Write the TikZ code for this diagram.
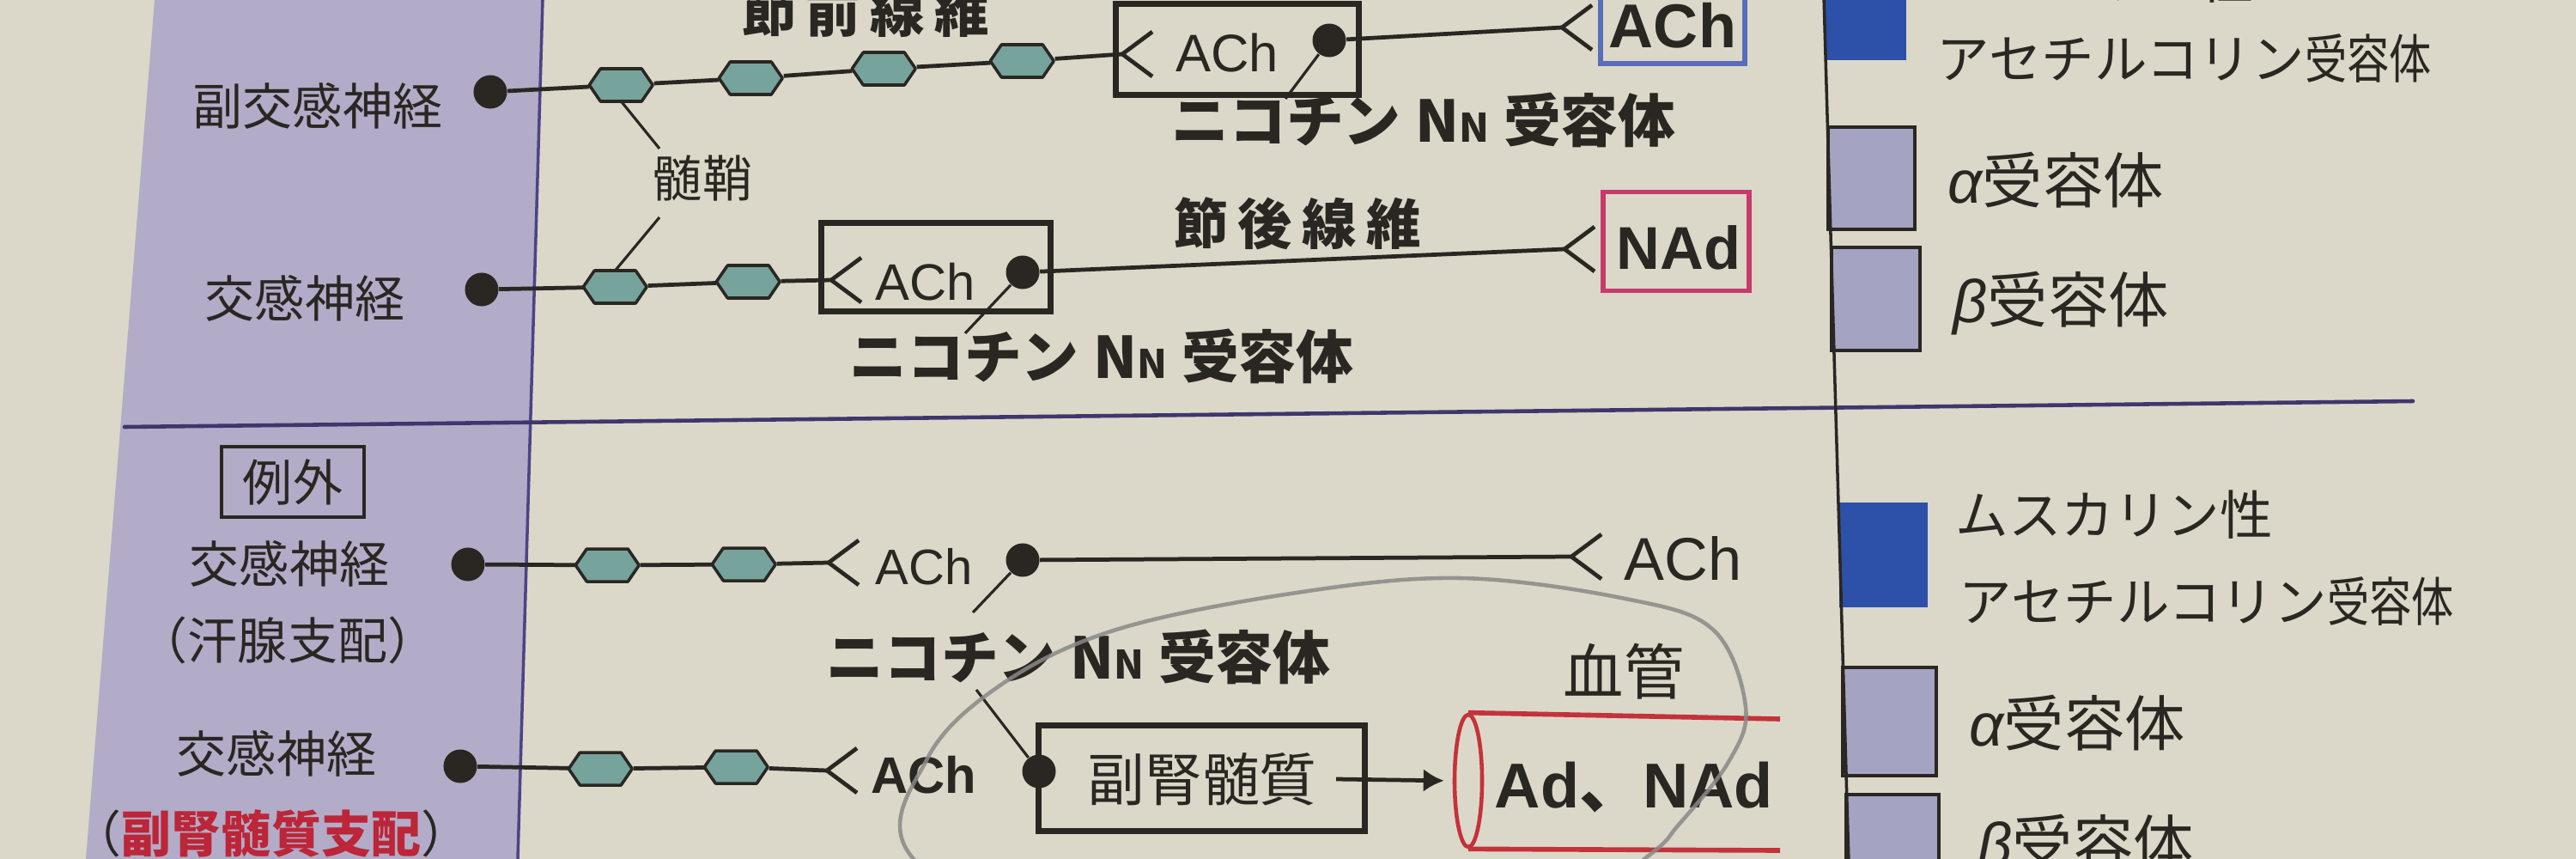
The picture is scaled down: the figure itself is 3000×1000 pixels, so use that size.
\documentclass[tikz,border=0pt]{standalone}
\usepackage{fontspec}
\setmainfont{Liberation Sans}
\newfontfamily\jp{Noto Sans CJK JP}
\usetikzlibrary{shapes.geometric,arrows.meta}
\definecolor{paper}{HTML}{DBD8C9}
\definecolor{band}{HTML}{B2ACC8}
\definecolor{bandline}{HTML}{4E4386}
\definecolor{divider}{HTML}{40366E}
\definecolor{ink}{HTML}{2A2723}
\definecolor{hexfill}{HTML}{76A39B}
\definecolor{bluesq}{HTML}{2D50A8}
\definecolor{lavsq}{HTML}{A5A3C2}
\definecolor{bluebox}{HTML}{5A6CBA}
\definecolor{pinkbox}{HTML}{C63A6C}
\definecolor{vessel}{HTML}{C4323A}
\definecolor{redtext}{HTML}{BC2638}
\definecolor{pencil}{HTML}{8A8987}
\newcommand\synend[1]{\draw[fibre] (#1) ++(35,-26) -- (#1) -- ++(35,26);}
\newcommand\hexat[2]{%
  \node[hexbase] (#1) at (#2) {};
  \filldraw[hexline] (#1.west) -- ++(13,-19) -- ++(48,0) -- ++(13,19) -- ++(-13,19) -- ++(-48,0) -- cycle;}
\begin{document}
\begin{tikzpicture}[x=0.01cm,y=-0.01cm,
  fibre/.style={draw=ink,line width=1.35pt,line join=miter},
  hexbase/.style={rectangle,minimum width=0.74cm,minimum height=0.38cm,inner sep=0pt},
  hexline/.style={draw=ink,fill=hexfill,line width=1pt,line join=round},
  knob/.style={circle,fill=ink,minimum size=0.39cm,inner sep=0pt},
  frame/.style={draw=ink,line width=2pt,inner sep=0pt},
  leader/.style={draw=ink,line width=0.9pt},
  jlab/.style={font=\jp\fontsize{16.5}{18}\selectfont,text=ink,inner sep=0pt},
  jbold/.style={font=\jp\bfseries\fontsize{19}{21}\selectfont,text=ink,inner sep=0pt},
  legend/.style={font=\jp\fontsize{20}{22}\selectfont,text=ink,inner sep=0pt,anchor=west},
  legsmall/.style={font=\jp\fontsize{17.5}{19}\selectfont,text=ink,inner sep=0pt,anchor=west},
  txt/.style={text=ink,inner sep=0pt},
  sq/.style={draw=ink,line width=1pt,fill=lavsq},
]
\useasboundingbox (0,0) rectangle (3000,1000);
\clip (0,0) rectangle (3000,1000);
\fill[paper] (0,0) rectangle (3000,1000);
% left band
\fill[band] (180,0) -- (632,0) -- (603,1000) -- (100,1000) -- cycle;
\draw[bandline,line width=1pt] (632,0) -- (603,1000);
% divider
\draw[divider,line width=1.3pt,line cap=round] (145,497) -- (2810,467);
% legend column
\fill[bluesq] (2125,-10) rectangle (2220,70);
\draw[sq] (2129,148) rectangle (2230,267);
\draw[sq] (2133,288) rectangle (2236,408);
\fill[bluesq] (2142,585) rectangle (2245,707);
\draw[sq] (2146,777) rectangle (2255,903);
\draw[sq] (2150,925) rectangle (2258,1020);
\draw[ink,line width=1pt] (2124,-5) -- (2153,1005);
\node[legsmall] (m1a) at (2255,-25) {ムスカリン性};
\node[legsmall] (m1b) at (2255,68) {アセチルコリン\scalebox{0.8}[1]{受容体}};
\node[legend] (al1) at (2268,210) {{\rmfamily\itshape α}受容体};
\node[legend] (be1) at (2274,353) {{\rmfamily\itshape β}受容体};
\node[legsmall] (m2a) at (2277,599) {ムスカリン性};
\node[legsmall] (m2b) at (2281,700) {アセチルコリン\scalebox{0.8}[1]{受容体}};
\node[legend] (al2) at (2293,842) {{\rmfamily\itshape α}受容体};
\node[legend] (be2) at (2303,985) {{\rmfamily\itshape β}受容体};

% left labels
\node[jlab] (lpara) at (370,123) {副交感神経};
\node[jlab] (lsym) at (355,347) {交感神経};
\node[jlab,draw=ink,line width=1pt,minimum width=1.66cm,minimum height=0.82cm] (exc) at (341,561) {例外};
\node[jlab] (lsym2) at (337,656) {交感神経};
\node[jlab] (lsweat) at (335,745) {（汗腺支配）};
\node[jlab] (lsym3) at (322,877) {交感神経};
\node[jlab] (ladr) at (316,970) {（{\bfseries\color{redtext}副腎髄質支配}）};

% ---------- line 1 : parasympathetic
\node[jbold,font=\jp\bfseries\fontsize{18}{20}\selectfont] (pre) at (1008,13) {節\hspace{0.18em}前\hspace{0.18em}線\hspace{0.18em}維};
\node[knob] (d1) at (571,107) {};
\hexat{h1}{724,99}
\hexat{h2}{875,91}
\hexat{h3}{1030,80}
\hexat{h4}{1191,71}
\coordinate (t1) at (1307,63);
\node[frame,minimum width=2.82cm,minimum height=1.05cm] (b1) at (1441,57.5) {};
\draw[fibre] (d1) -- (h1) -- (h2) -- (h3) -- (h4) -- (t1);
\synend{t1}
\node[txt,font=\fontsize{17.5}{19}\selectfont] (a1) at (1429,62) {ACh};
\node[knob] (d1b) at (1548,47) {};
\coordinate (t1b) at (1819,32);
\draw[fibre] (d1b) -- (t1b);
\synend{t1b}
\node[draw=bluebox,line width=1.5pt,minimum width=1.68cm,minimum height=0.89cm,inner sep=0pt,text=ink,font=\bfseries\fontsize{20.5}{22}\selectfont] (bb1) at (1948,29.5) {ACh};
\node[jbold] (n1) at (1658,140) {ニコチン\hspace{0.25em}N{\fontsize{13}{13}\selectfont N}\hspace{0.25em}受容体};
\coordinate (l1) at (1497,115);
\draw[leader] (d1b) -- (l1);
% myelin label
\node[jlab] (my) at (818,207) {髄鞘};
\coordinate (my1) at (768,173);
\coordinate (my2) at (768,253);

% ---------- line 2 : sympathetic
\node[knob] (d2) at (561,337) {};
\hexat{h5}{717,334}
\hexat{h6}{872,328}
\coordinate (t2) at (968,326);
\node[frame,minimum width=2.66cm,minimum height=1.02cm] (b2) at (1090,311) {};
\draw[fibre] (d2) -- (h5) -- (h6) -- (t2);
\synend{t2}
\node[txt,font=\fontsize{17}{19}\selectfont] (a2) at (1078,328) {ACh};
\node[knob] (d2b) at (1191,317) {};
\coordinate (t2b) at (1822,290);
\draw[fibre] (d2b) -- (t2b);
\synend{t2b}
\node[draw=pinkbox,line width=1.5pt,minimum width=1.70cm,minimum height=1.15cm,inner sep=0pt] (pb) at (1952,281) {};
\node[txt,font=\bfseries\fontsize{20}{22}\selectfont] (nad) at (1955,288) {NAd};
\node[jbold,font=\jp\bfseries\fontsize{18}{20}\selectfont] (post) at (1511,260) {節\hspace{0.18em}後\hspace{0.18em}線\hspace{0.18em}維};
\node[jbold] (n2) at (1283,415) {ニコチン\hspace{0.25em}N{\fontsize{13}{13}\selectfont N}\hspace{0.25em}受容体};
\coordinate (l2) at (1124,388);
\draw[leader] (d2b) -- (l2);
\draw[leader] (h1.south) -- (my1);
\draw[leader] (my2) -- (h5.north);

% ---------- line 3 : sympathetic (sweat glands)
\node[knob] (d3) at (545,657) {};
\hexat{h7}{708,658}
\hexat{h8}{867,657}
\coordinate (t3) at (965,655);
\draw[fibre] (d3) -- (h7) -- (h8) -- (t3);
\synend{t3}
\node[txt,font=\fontsize{16.5}{18}\selectfont] (a3) at (1076,660) {ACh};
\node[knob] (d3b) at (1191,652) {};
\coordinate (t3b) at (1830,648);
\draw[fibre] (d3b) -- (t3b);
\synend{t3b}
\node[txt,font=\fontsize{20}{22}\selectfont] (a3b) at (1960,650) {ACh};
\node[jbold] (n3) at (1256,765) {ニコチン\hspace{0.25em}N{\fontsize{13}{13}\selectfont N}\hspace{0.25em}受容体};
\coordinate (l3a) at (1133,713);
\coordinate (l3b) at (1137,803);

% ---------- line 4 : sympathetic (adrenal medulla)
\node[knob] (d4) at (536,892) {};
\hexat{h9}{700,895}
\hexat{h10}{858,893}
\coordinate (t4) at (963,897);
\draw[fibre] (d4) -- (h9) -- (h10) -- (t4);
\synend{t4}
\node[txt,font=\bfseries\fontsize{17}{19}\selectfont] (a4) at (1076,902) {ACh};
\node[frame,minimum width=3.79cm,minimum height=1.22cm] (adr) at (1399.5,906) {};
\node[knob] (d4b) at (1210,898) {};
\node[jlab,font=\jp\fontsize{19}{21}\selectfont] (adrt) at (1400,907) {副腎髄質};
\draw[leader] (d3b) -- (l3a);
\draw[leader] (l3b) -- (d4b);
\node[ellipse,draw=vessel,line width=1.3pt,minimum width=0.32cm,minimum height=1.54cm,inner sep=0pt] (vm) at (1710,909) {};
\coordinate (v1) at (2073,837);
\coordinate (v2) at (2073,990);
\draw[vessel,line width=1.6pt] (vm.north) -- (v1);
\draw[vessel,line width=1.6pt] (vm.south) -- (v2);
\coordinate (arrS) at (1556,907);
\draw[fibre,-{Latex[length=0.24cm,width=0.27cm]},shorten >=0.1cm] (arrS) -- (vm.west);
\node[jlab,font=\jp\fontsize{20}{22}\selectfont] (bv) at (1891,782) {血管};
\node[txt,font=\bfseries\fontsize{21}{23}\selectfont] (adnad) at (1903,917) {Ad{\jp 、}NAd};

% pencil annotation
\draw[pencil,line width=1.3pt,opacity=0.85] plot[smooth cycle,tension=0.6] coordinates {(1064,1000) (1080,883) (1166,797) (1300,733) (1510,690) (1701,673) (1893,697) (1995,733) (2033,823) (2013,887) (1955,960) (1915,1000) (1750,1120) (1300,1130)};
\end{tikzpicture}
\end{document}
